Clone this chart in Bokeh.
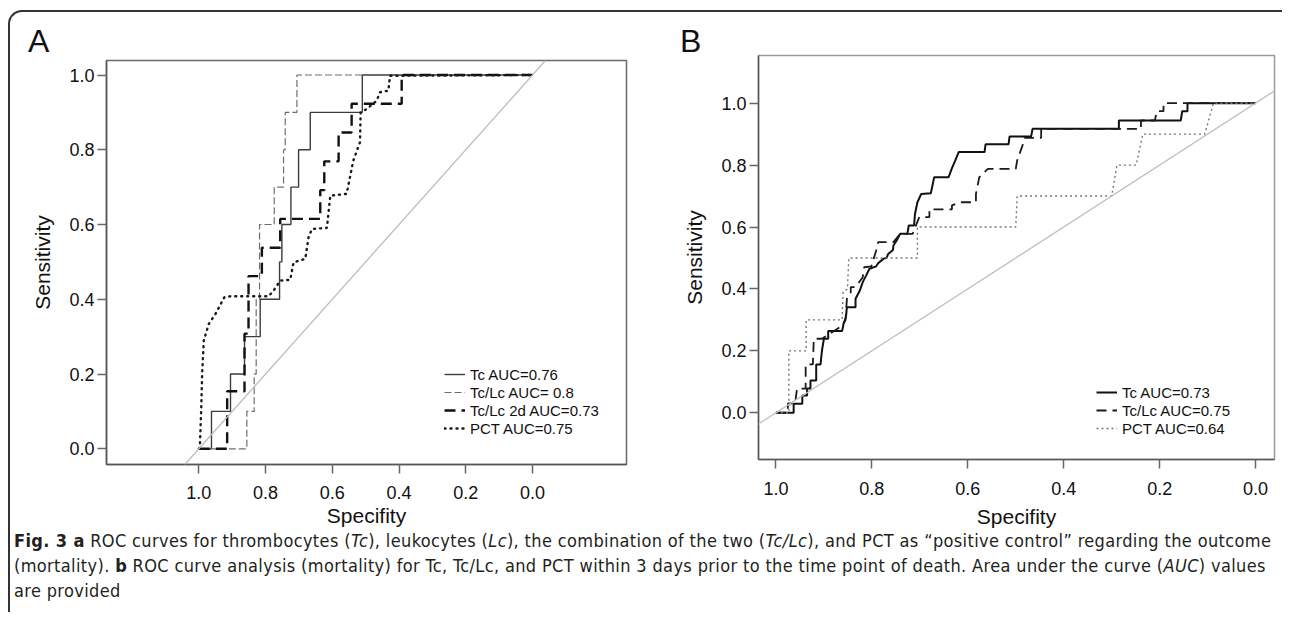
from bokeh.plotting import figure
from bokeh.models import Range1d, Slope, Legend, LegendItem, Div, FixedTicker
from bokeh.layouts import row, column
from bokeh.embed import file_html
from bokeh.resources import INLINE

# ---------------- data ----------------
tick_values = [0.0, 0.2, 0.4, 0.6, 0.8, 1.0]
tick_labels = {0.0: "0.0", 0.2: "0.2", 0.4: "0.4", 0.6: "0.6", 0.8: "0.8", 1.0: "1.0"}

# Panel A (specificity, sensitivity)
a_tc_spec = [1.0, 0.962, 0.962, 0.905, 0.905, 0.863, 0.863, 0.816, 0.816, 0.758, 0.758, 0.751, 0.751,
             0.724, 0.724, 0.701, 0.701, 0.666, 0.666, 0.510, 0.510, 0.0]
a_tc_sens = [0.0, 0.0, 0.1, 0.1, 0.2, 0.2, 0.3, 0.3, 0.4, 0.4, 0.5, 0.5, 0.6,
             0.6, 0.7, 0.7, 0.8, 0.8, 0.9, 0.9, 1.0, 1.0]

a_tclc_spec = [1.0, 0.856, 0.856, 0.834, 0.834, 0.828, 0.828, 0.818, 0.818, 0.774, 0.774, 0.746, 0.746,
               0.741, 0.741, 0.706, 0.706, 0.0]
a_tclc_sens = [0.0, 0.0, 0.1, 0.1, 0.2, 0.2, 0.4, 0.4, 0.6, 0.6, 0.7, 0.7, 0.8,
               0.8, 0.9, 0.9, 1.0, 1.0]

a_tclc2d_spec = [1.0, 0.915, 0.915, 0.863, 0.863, 0.851, 0.851, 0.811, 0.811, 0.756, 0.756, 0.636, 0.636,
                 0.624, 0.624, 0.581, 0.581, 0.542, 0.542, 0.392, 0.392, 0.0]
a_tclc2d_sens = [0.0, 0.0, 0.154, 0.154, 0.308, 0.308, 0.462, 0.462, 0.538, 0.538, 0.615, 0.615, 0.692,
                 0.692, 0.769, 0.769, 0.846, 0.846, 0.923, 0.923, 1.0, 1.0]

a_pct_spec = [1.0, 0.997, 0.993, 0.990, 0.985, 0.970, 0.950, 0.923, 0.905, 0.791, 0.776, 0.756, 0.726,
              0.716, 0.681, 0.671, 0.661, 0.616, 0.606, 0.557, 0.537, 0.517, 0.515, 0.497, 0.467,
              0.457, 0.432, 0.427, 0.0]
a_pct_sens = [0.0, 0.003, 0.1, 0.2, 0.29, 0.334, 0.361, 0.406, 0.408, 0.408, 0.423, 0.45, 0.452,
              0.499, 0.508, 0.566, 0.588, 0.591, 0.677, 0.682, 0.771, 0.82, 0.9, 0.909, 0.931,
              0.954, 0.958, 0.998, 1.0]

a_labels = ["Tc AUC=0.76", "Tc/Lc AUC= 0.8", "Tc/Lc 2d AUC=0.73", "PCT AUC=0.75"]

# Panel B
b_tc_spec = [1.0, 0.963, 0.963, 0.945, 0.945, 0.935, 0.935, 0.928, 0.928, 0.916, 0.916, 0.907, 0.904,
             0.900, 0.891, 0.891, 0.862, 0.859, 0.854, 0.852, 0.834, 0.834, 0.825, 0.819, 0.812,
             0.805, 0.791, 0.787, 0.776, 0.769, 0.766, 0.756, 0.755, 0.748, 0.741, 0.726, 0.723,
             0.712, 0.710, 0.705, 0.697, 0.677, 0.670, 0.640, 0.633, 0.626, 0.619, 0.565, 0.563,
             0.515, 0.513, 0.468, 0.465, 0.285, 0.285, 0.156, 0.153, 0.142, 0.142, 0.0]
b_tc_sens = [0.0, 0.0, 0.029, 0.029, 0.056, 0.056, 0.078, 0.078, 0.104, 0.104, 0.156, 0.156, 0.201,
             0.239, 0.239, 0.264, 0.264, 0.287, 0.309, 0.341, 0.341, 0.368, 0.395, 0.422, 0.443,
             0.465, 0.473, 0.483, 0.497, 0.501, 0.513, 0.526, 0.540, 0.557, 0.578, 0.578, 0.605,
             0.605, 0.643, 0.680, 0.707, 0.709, 0.761, 0.761, 0.790, 0.815, 0.842, 0.842, 0.867,
             0.867, 0.892, 0.892, 0.917, 0.917, 0.944, 0.944, 0.974, 0.974, 1.0, 1.0]

b_tclc_spec = [1.0, 0.975, 0.975, 0.960, 0.956, 0.938, 0.938, 0.923, 0.921, 0.904, 0.866, 0.855, 0.852,
               0.844, 0.844, 0.834, 0.819, 0.816, 0.801, 0.791, 0.787, 0.755, 0.741, 0.715, 0.708,
               0.701, 0.680, 0.680, 0.633, 0.633, 0.615, 0.583, 0.583, 0.576, 0.558, 0.500, 0.497,
               0.486, 0.482, 0.447, 0.447, 0.239, 0.239, 0.210, 0.206, 0.192, 0.192, 0.0]
b_tclc_sens = [0.0, 0.0, 0.03, 0.03, 0.078, 0.078, 0.156, 0.156, 0.239, 0.239, 0.277, 0.298, 0.368,
               0.384, 0.406, 0.406, 0.438, 0.470, 0.473, 0.524, 0.551, 0.551, 0.578, 0.578, 0.605,
               0.632, 0.632, 0.657, 0.657, 0.670, 0.680, 0.680, 0.707, 0.761, 0.788, 0.788, 0.815,
               0.863, 0.888, 0.888, 0.917, 0.917, 0.944, 0.944, 0.974, 0.974, 1.0, 1.0]

b_pct_spec = [1.0, 0.973, 0.973, 0.937, 0.937, 0.862, 0.860, 0.851, 0.848, 0.705, 0.705, 0.500, 0.497,
              0.300, 0.289, 0.249, 0.235, 0.106, 0.088, 0.0]
b_pct_sens = [0.0, 0.0, 0.2, 0.2, 0.3, 0.3, 0.39, 0.40, 0.5, 0.5, 0.6, 0.6, 0.7,
              0.7, 0.8, 0.8, 0.9, 0.9, 1.0, 1.0]

b_labels = ["Tc AUC=0.73", "Tc/Lc AUC=0.75", "PCT AUC=0.64"]

panel_letters = ["A", "B"]

FONT = "Liberation Sans"


def base_fig(width, height, xr, yr, mbl, mbr, mbt, mbb, lab_standoff, axlab_standoff, margin):
    p = figure(width=width, height=height, x_range=Range1d(*xr), y_range=Range1d(*yr),
               output_backend="svg", toolbar_location=None,
               min_border_left=mbl, min_border_right=mbr, min_border_top=mbt, min_border_bottom=mbb,
               background_fill_color="white", border_fill_color=None, margin=margin)
    p.xgrid.visible = False
    p.ygrid.visible = False
    p.outline_line_color = "#6a6a6a"
    p.outline_line_width = 1.5
    for ax in (p.xaxis[0], p.yaxis[0]):
        ax.ticker = FixedTicker(ticks=tick_values)
        ax.major_label_overrides = tick_labels
        ax.major_tick_in = 0
        ax.major_tick_out = 9
        ax.minor_tick_line_color = None
        ax.axis_line_color = "#555555"
        ax.axis_line_width = 1.5
        ax.major_tick_line_color = "#666666"
        ax.major_tick_line_width = 1.5
        ax.major_label_text_font = FONT
        ax.major_label_text_font_size = "18px"
        ax.major_label_text_color = "#111111"
        ax.axis_label_text_font = FONT
        ax.axis_label_text_font_size = "21px"
        ax.axis_label_text_font_style = "normal"
        ax.axis_label_text_color = "#111111"
    p.xaxis.axis_label = "Specifity"
    p.yaxis.axis_label = "Sensitivity"
    p.xaxis.major_label_standoff = lab_standoff
    p.xaxis.axis_label_standoff = axlab_standoff
    p.yaxis.major_label_standoff = 3
    p.yaxis.axis_label_standoff = 12
    p.add_layout(Slope(gradient=-1, y_intercept=1, line_color="#bdbdbd", line_width=1.3))
    return p


def style_legend(p, items, loc):
    leg = Legend(items=items, location=loc, border_line_color=None, background_fill_alpha=0,
                 padding=0, margin=0, spacing=0, label_height=18, glyph_height=18, glyph_width=21,
                 label_standoff=5, label_text_font=FONT, label_text_font_size="15px",
                 label_text_color="#111111")
    p.add_layout(leg)


# Panel A
pA = base_fig(670, 527, (1.2766, -0.2817), (-0.042, 1.0388), 96, 54, 43, 80, 12, 2, (5, 0, 0, 0))
rA1 = pA.line(a_tc_spec, a_tc_sens, line_color="#3c3c3c", line_width=1.4)
rA2 = pA.line(a_tclc_spec, a_tclc_sens, line_color="#6e6e6e", line_width=1.2, line_dash="7 3")
rA3 = pA.line(a_tclc2d_spec, a_tclc2d_sens, line_color="#111111", line_width=2.4, line_dash="11 6")
rA4 = pA.line(a_pct_spec, a_pct_sens, line_color="#1a1a1a", line_width=2.4, line_dash="1 5",
              line_cap="round")
style_legend(pA, [LegendItem(label=l, renderers=[r]) for l, r in zip(a_labels, [rA1, rA2, rA3, rA4])],
             (338, 27))

# Panel B
pB = base_fig(602, 527, (1.0363, -0.0394), (-0.151, 1.154), 75, 8, 43, 80, 13, 7, (0, 0, 0, 0))
pB.outline_line_color = "#9a9a9a"
rB1 = pB.line(b_tc_spec, b_tc_sens, line_color="#111111", line_width=2.0)
rB2 = pB.line(b_tclc_spec, b_tclc_sens, line_color="#1a1a1a", line_width=1.8, line_dash="10 6")
rB3 = pB.line(b_pct_spec, b_pct_sens, line_color="#777777", line_width=1.4, line_dash="2 3")
style_legend(pB, [LegendItem(label=l, renderers=[r]) for l, r in zip(b_labels, [rB1, rB2, rB3])],
             (338, 22))

letter_style = {"font-family": "'Liberation Sans'", "font-size": "32px", "line-height": "32px",
                "color": "#111111", "padding-top": "13px", "box-sizing": "border-box"}
letterA = Div(text=panel_letters[0], width=670, height=40, margin=(0, 0, 0, 0),
              styles=dict(letter_style, **{"padding-left": "18px"}))
letterB = Div(text=panel_letters[1], width=602, height=40, margin=(0, 0, 0, 0),
              styles=dict(letter_style, **{"padding-left": "0px"}))

caption_html = (
    "<b>Fig. 3 a</b> ROC curves for thrombocytes (<i>Tc</i>), leukocytes (<i>Lc</i>), the combination of "
    "the two (<i>Tc/Lc</i>), and PCT as \u201cpositive control\u201d regarding the outcome<br>"
    "(mortality). <b>b</b> ROC curve analysis (mortality) for Tc, Tc/Lc, and PCT within 3 days prior to the "
    "time point of death. Area under the curve (<i>AUC</i>) values<br>"
    "are provided"
)
caption = Div(text=caption_html, width=1272, height=84, margin=(-16, 0, 0, 0),
              styles={"font-family": "'DejaVu Sans Condensed', 'Liberation Sans'",
                      "font-size": "18px", "line-height": "25px", "color": "#231f20",
                      "white-space": "nowrap", "padding-left": "4px", "letter-spacing": "0.36px"})

layout = column(row(letterA, letterB), row(pA, pB, margin=(-40, 0, 0, 0)), caption, margin=(10, 0, 0, 8),
                styles={"border-top": "2px solid #333333", "border-left": "2px solid #333333",
                        "border-top-left-radius": "14px"})

open("out.html", "w").write(file_html(layout, INLINE))
